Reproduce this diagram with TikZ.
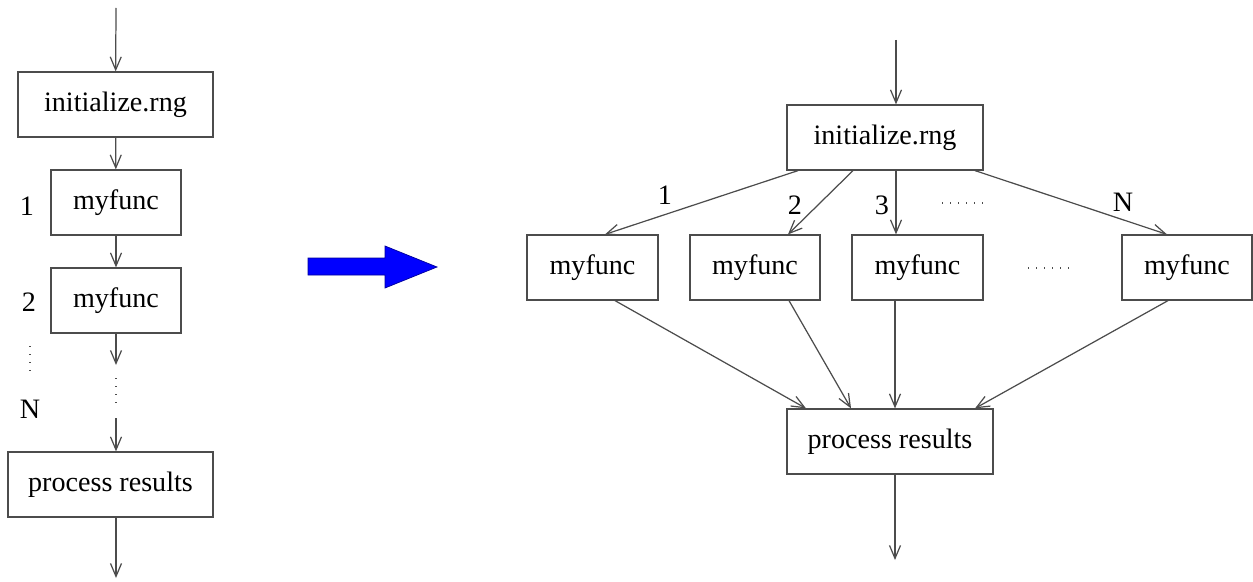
\documentclass[tikz,border=0pt]{standalone}
\usepackage{fontspec}
\setmainfont{Liberation Serif}
\usetikzlibrary{arrows.meta}
\definecolor{linegray}{gray}{0.3}
\tikzset{
  box/.style={draw=linegray, line width=0.7pt, minimum height=1.3cm, inner sep=0pt},
  flow/.style={draw=linegray, line width=0.7pt, -{Straight Barb[length=2.6mm,width=2.2mm]}},
  dots/.style={draw=linegray, line width=0.6pt, dash pattern=on 0.6pt off 4pt},
  lbl/.style={inner sep=0pt}
}
\begin{document}
\begin{tikzpicture}[x=0.02cm, y=-0.02cm, font=\fontsize{16}{19}\selectfont]
  \useasboundingbox (0,0) rectangle (1253,581);
  % serial version
  \coordinate (ltop) at (116,8);
  \coordinate (lbot) at (116,578);
  \node[box, minimum width=3.9cm] (linit) at (115.5,104.5) {initialize.rng};
  \node[box, minimum width=2.6cm] (lf1)   at (116,202.5)   {myfunc};
  \node[box, minimum width=2.6cm] (lf2)   at (116,300.5)   {myfunc};
  \node[box, minimum width=4.1cm] (lres)  at (110.5,484.5) {process results};
  \node[lbl] (ln1) at (27,206) {1};
  \node[lbl] (ln2) at (29,302) {2};
  \node[lbl] (lnN) at (30,409) {N};
  \coordinate (lgap1) at (116,365);
  \coordinate (lgap2) at (116,418);
  \draw[flow] (ltop) -- (linit);
  \draw[flow] (linit) -- (lf1);
  \draw[flow] (lf1) -- (lf2);
  \draw[flow] (lf2) -- (lgap1);
  \draw[dots] (116,378) -- (116,408);
  \draw[dots] (30,346) -- (30,376);
  \draw[flow] (lgap2) -- (lres.north -| lgap2);
  \draw[flow] (lres.south -| lbot) -- (lbot);

  % big arrow
  \fill[blue, draw=blue!60!black, line width=0.4pt]
    (308,258) -- (385,258) -- (385,246) -- (437,267)
    -- (385,288) -- (385,275) -- (308,275) -- cycle;

  % parallel version
  \coordinate (rtop) at (896,40);
  \coordinate (rbot) at (895,560);
  \node[box, minimum width=3.92cm] (rinit) at (885,137.5)  {initialize.rng};
  \node[box, minimum width=2.62cm] (rf1)   at (592.5,267.5) {myfunc};
  \node[box, minimum width=2.6cm]  (rf2)   at (755,267.5)   {myfunc};
  \node[box, minimum width=2.62cm] (rf3)   at (917.5,267.5) {myfunc};
  \node[box, minimum width=2.6cm]  (rfN)   at (1187,267.5)  {myfunc};
  \node[box, minimum width=4.12cm] (rres)  at (890,441.5)   {process results};
  \node[lbl] (rn1) at (665,195) {1};
  \node[lbl] (rn2) at (795,205) {2};
  \node[lbl] (rn3) at (882,205) {3};
  \node[lbl] (rnN) at (1123,202) {N};
  \draw[flow] (rtop) -- (rinit.north -| rtop);
  \draw[flow] (rinit.south -| 798,0) -- (rf1.north -| 605,0);
  \draw[flow] (rinit.south -| 853,0) -- (rf2.north -| 788,0);
  \draw[flow] (rinit.south -| 896,0) -- (rf3.north -| 896,0);
  \draw[flow] (rinit.south -| 975,0) -- (rfN.north -| 1167,0);
  \draw[dots] (942,203) -- (990,203);
  \draw[dots] (1028,268) -- (1076,268);
  \draw[flow] (rf1.south -| 615,0) -- (rres.north -| 806,0);
  \draw[flow] (rf2.south -| 789,0) -- (rres.north -| 851,0);
  \draw[flow] (rf3.south -| 895,0) -- (rres.north -| 895,0);
  \draw[flow] (rfN.south -| 1168,0) -- (rres.north -| 975,0);
  \draw[flow] (rres.south -| rbot) -- (rbot);
\end{tikzpicture}
\end{document}
